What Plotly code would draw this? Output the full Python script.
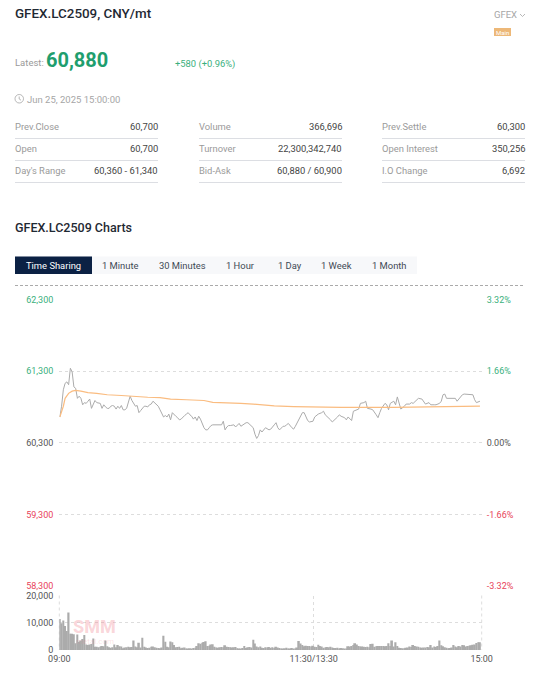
import plotly.graph_objects as go

W, H = 542, 677

price_min = [0,1,2,3,4,5,6,7,8,9,10,11,12,13,14,15,16,17,18,19,20,21,22,23,24,25,26,27,28,29,30,31,32,33,34,35,36,37,38,39,
 40,41,42,43,44,45,46,47,48,49,50,51,52,53,54,55,56,57,58,59,60,61,62,63,64,65,66,67,68,69,70,71,72,73,74,75,76,77,78,79,
 80,81,82,83,84,85,86,87,88,89,90,91,92,93,94,95,96,97,98,99,100,101,102,103,104,105,106,107,108,109,110,111,112,113,114,115,116,117,119,
 120,122,123,124,125,127,128,129,130,132,133,134,135,137,138,139,141,142,144,145,146,147,149,150,151,152,154,155,156,158,159,160,162,163,164,166,167,169,170,171,
 173,174,175,177,178,180,181,182,183,185,186,187,188,190,191,192,193,194,196,197,199,200,201,203,204,206,207,208,210,211,213,214,216,217,218,219,220,222,223,225,
 226,227,229,230,232,234,235,236,237,239]
price = [60660,60810,61040,61130,61150,61110,61340,61290,61080,61060,60920,60950,60920,60830,60860,60850,60880,60910,60780,60850,
 60890,60860,60860,60850,60780,60830,60800,60780,60780,60810,60820,60810,60770,60810,60780,60820,60760,60760,60780,60850,
 60950,60890,60850,60810,60820,60720,60750,60780,60810,60810,60800,60830,60840,60880,60860,60830,60810,60760,60720,60660,
 60680,60660,60700,60620,60720,60690,60670,60650,60620,60630,60660,60680,60700,60720,60690,60670,60630,60660,60610,60670,
 60630,60570,60510,60480,60480,60510,60540,60550,60550,60540,60550,60540,60550,60600,60480,60520,60540,60540,60540,60550,
 60520,60540,60570,60530,60550,60570,60580,60580,60560,60530,60510,60420,60360,60400,60480,60450,60480,60510,60480,
 60490,60550,60580,60510,60480,60530,60530,60550,60570,60510,60490,60530,60580,60690,60720,60720,60610,60590,60600,60660,
 60680,60700,60720,60740,60690,60670,60620,60590,60610,60660,60690,60670,60650,60620,60660,60610,60740,60760,60770,60850,
 60860,60880,60780,60770,60760,60690,60650,60720,60780,60850,60830,60760,60850,60880,60830,60940,60850,60770,60810,60840,
 60840,60860,60850,60900,60920,60910,60880,60840,60860,60830,60830,60830,60850,60880,60970,60980,60920,60920,60910,60920,
 60880,60910,60970,60980,60980,60980,60970,60900,60860,60880]

avg_min = [0,2,3,5,7,9,12,16,21,27,35,42,50,57,63,72,82,87,95,103,110,115,120,122,133,145,160,190,209,228,239]
avg_price = [60660,60810,60920,60990,61020,61030,61020,61000,60990,60970,60960,60945,60935,60930,60910,60900,60890,60865,60860,60850,
 60840,60830,60825,60815,60805,60800,60793,60793,60798,60802,60810]

volume = [
 11400,9800,10800,8800,7000,13800,6000,6000,5800,2500,5700,3000,3500,4000,5500,2000,1800,2000,2200,4200,
 1200,1200,1000,1200,1500,1400,3500,1400,1000,800,1000,2000,1000,1800,1400,1300,600,900,1000,1200,
 1000,1100,3500,1300,1000,2700,900,4500,1200,900,700,800,1200,1300,1000,800,700,600,900,5200,
 3000,1200,1000,3100,2800,1800,1000,1100,1200,600,800,900,500,500,600,500,700,800,1500,2500,
 2300,2700,2900,3200,1500,1600,2000,2100,1200,900,800,1000,1100,1000,1700,1200,1100,1000,900,1000,
 1100,600,400,500,700,1500,700,1000,1100,900,3800,2400,1300,1000,1300,800,700,1000,900,1100,
 800,1000,700,1200,900,700,500,400,600,800,500,400,700,500,400,900,3300,2400,1800,1400,1600,1500,
 1500,1300,1600,1200,1100,1900,1500,1300,800,900,1100,1000,1200,900,700,700,800,500,700,600,
 400,400,1400,1300,1500,1800,2500,2000,1500,1300,1300,1200,1100,1200,1000,2200,2300,1200,1400,1500,
 1500,1500,1500,1400,1500,2500,1500,3500,1300,2800,1500,800,700,600,600,800,900,1300,1100,1800,
 1500,1300,1200,900,800,900,900,1100,1000,1800,900,1300,1100,1500,3500,1700,1400,1000,800,600,
 700,900,1800,1300,1000,1500,1300,1800,1700,1300,1500,1600,1700,1900,2000,2600,2800,2800][:240]

price_ticks = [62300,61300,60300,59300,58300]
price_labels = ["62,300","61,300","60,300","59,300","58,300"]
pct_ticks = [3.32,1.66,0,-1.66,-3.32]
pct_labels = ["3.32%","1.66%","0.00%","-1.66%","-3.32%"]
label_colors = ["#3aaf7d","#3aaf7d","#555555","#e8435a","#e8435a"]
vol_ticks = [0,10000,20000]
vol_labels = ["0","10,000","20,000"]
time_ticks = [-0.3,144.4,240]
time_labels = ["09:00","11:30/13:30","15:00"]

stat_rows = [
 [("Prev.Close","60,700"),("Volume","366,696"),("Prev.Settle","60,300")],
 [("Open","60,700"),("Turnover","22,300,342,740"),("Open Interest","350,256")],
 [("Day's Range","60,360 - 61,340"),("Bid-Ask","60,880 / 60,900"),("I.O Change","6,692")],
]
tabs = [("Time Sharing",53),("1 Minute",120),("30 Minutes",182),("1 Hour",240),("1 Day",290),("1 Week",336),("1 Month",389)]

PX0, PX1 = 59.3, 481.7
def yd(p): return 1 - p / H
def xd(p): return p / W

fig = go.Figure()
fig.add_trace(go.Scatter(x=price_min, y=price, mode="lines", line=dict(color="#ababab", width=1), xaxis="x", yaxis="y", hoverinfo="skip"))
fig.add_trace(go.Scatter(x=avg_min, y=avg_price, mode="lines", line=dict(color="#fabc80", width=1.2), xaxis="x", yaxis="y", hoverinfo="skip"))
fig.add_trace(go.Scatter(x=[0], y=[0], mode="lines", opacity=0, xaxis="x", yaxis="y2", hoverinfo="skip"))
fig.add_trace(go.Bar(x=list(range(len(volume))), y=volume, marker=dict(color="#ababab", line=dict(width=0)), width=1.0, xaxis="x2", yaxis="y3", hoverinfo="skip"))

tick_font = dict(family="Roboto", size=9, color="#555555")
grid = dict(showgrid=True, gridcolor="#dddddd", griddash="3px,3px", gridwidth=1, zeroline=False, showline=False, ticks="", fixedrange=True, automargin=False)

ann = []
def T(x, y, s, size=10, color="#888888", anchor="left", weight=400):
    ann.append(dict(xref="paper", yref="paper", x=xd(x), y=yd(y), text=s, showarrow=False, xanchor=anchor, yanchor="middle",
                    font=dict(family="Roboto", size=size, color=color, weight=weight), borderpad=0, borderwidth=0))

T(15, 13, "GFEX.LC2509, CNY/mt", 13.4, "#1f2933", weight=500)
T(517, 15, "GFEX", 9.5, "#a6a6a6", "right")
T(502.5, 32.5, "Main", 6, "#ffffff", "center")
T(15, 63, "Latest:", 9.5, "#9a9a9a")
T(46, 60, "60,880", 20, "#1f9e6e", weight=700)
T(175, 64, "+580 (+0.96%)", 9.4, "#3aaf7d")
T(27, 99, "Jun 25, 2025 15:00:00", 9.5, "#a6a6a6")
T(15, 227, "GFEX.LC2509 Charts", 12.5, "#1f2933", weight=500)

shapes = []
cols = [(15,158),(199,342),(382,525)]
for r, row in enumerate(stat_rows):
    yc = 126.4 + 22 * r
    yl = 138.5 + 22 * r
    for c, (lab, val) in enumerate(row):
        T(cols[c][0], yc, lab, 9.4, "#9a9a9a")
        T(cols[c][1], yc, val, 9.4, "#444444", "right")
        shapes.append(dict(type="line", xref="paper", yref="paper", x0=xd(cols[c][0]), x1=xd(cols[c][1]), y0=yd(yl), y1=yd(yl), line=dict(color="#dcdee3", width=1)))

shapes.append(dict(type="rect", xref="paper", yref="paper", x0=xd(15), x1=xd(417), y0=yd(256.5), y1=yd(274), fillcolor="#f7f8fa", line=dict(width=0), layer="below"))
shapes.append(dict(type="rect", xref="paper", yref="paper", x0=xd(15), x1=xd(92), y0=yd(256.5), y1=yd(274), fillcolor="#0b2144", line=dict(width=0), layer="below"))
for i, (s, x) in enumerate(tabs):
    T(x, 265, s, 9.4, "#ffffff" if i == 0 else "#3f4a55", "center")
shapes.append(dict(type="line", xref="paper", yref="paper", x0=xd(15), x1=xd(525), y0=yd(285.5), y1=yd(285.5), line=dict(color="#aaaaaa", width=1, dash="3px,2px")))
shapes.append(dict(type="rect", xref="paper", yref="paper", x0=xd(494), x1=xd(511), y0=yd(28), y1=yd(36), fillcolor="#edb878", line=dict(width=0), layer="below"))
shapes.append(dict(type="circle", xref="paper", yref="paper", x0=xd(15), x1=xd(23.5), y0=yd(94.5), y1=yd(103), line=dict(color="#a6a6a6", width=0.8)))
shapes.append(dict(type="path", xref="paper", yref="paper", path=f"M {xd(19.2)} {yd(96.5)} L {xd(19.2)} {yd(99)} L {xd(21)} {yd(100.2)}", line=dict(color="#a6a6a6", width=0.8)))
shapes.append(dict(type="path", xref="paper", yref="paper", path=f"M {xd(520)} {yd(14)} L {xd(522.5)} {yd(16.5)} L {xd(525)} {yd(14)}", line=dict(color="#a6a6a6", width=0.8)))
for px in (PX0, PX1):
    shapes.append(dict(type="line", xref="paper", yref="paper", x0=xd(px), x1=xd(px), y0=yd(595.5), y1=yd(650), line=dict(color="#dddddd", width=1, dash="3px,3px"), layer="below"))

ann.append(dict(xref="paper", yref="paper", x=xd(94), y=yd(626), text="SMM", showarrow=False, xanchor="center", yanchor="middle",
                font=dict(family="Roboto", size=18, color="rgba(240,130,140,0.32)", weight=800)))
ann.append(dict(xref="paper", yref="paper", x=xd(95), y=yd(641), text="metal.com", showarrow=False, xanchor="center", yanchor="middle",
                font=dict(family="Roboto", size=8, color="rgba(240,130,140,0.22)")))

def colored(labels):
    return [f'<span style="color:{c}">{s}</span>' for s, c in zip(labels, label_colors)]

fig.update_layout(
    width=W, height=H, margin=dict(l=0, r=0, t=0, b=0, autoexpand=False), autosize=False,
    paper_bgcolor="#ffffff", plot_bgcolor="rgba(0,0,0,0)", showlegend=False, barmode="overlay",
    font=dict(family="Roboto"), annotations=ann, shapes=shapes,
    xaxis=dict(domain=[xd(PX0), xd(PX1)], range=[-0.3, 240], anchor="y", showgrid=False, zeroline=False, showline=False, showticklabels=False, ticks="", fixedrange=True, automargin=False),
    yaxis=dict(domain=[yd(586), yd(299.5)], range=[58300, 62300], anchor="x", tickmode="array", tickvals=price_ticks, ticktext=colored(price_labels), tickfont=tick_font, ticklabelstandoff=5, **grid),
    yaxis2=dict(domain=[yd(586), yd(299.5)], range=[-3.32, 3.32], overlaying="y", anchor="x", side="right", tickmode="array", tickvals=pct_ticks, ticktext=colored(pct_labels), tickfont=tick_font, showgrid=False, zeroline=False, showline=False, ticks="", ticklabelstandoff=4, fixedrange=True, automargin=False),
    xaxis2=dict(domain=[xd(PX0), xd(PX1)], range=[-0.3, 240], anchor="y3", tickmode="array", tickvals=time_ticks, ticktext=time_labels, tickfont=tick_font, showgrid=True, gridcolor="#dddddd", griddash="3px,3px", zeroline=False, showline=False, ticks="", ticklabelstandoff=2, fixedrange=True, automargin=False),
    yaxis3=dict(domain=[yd(650), yd(595.5)], range=[0, 20000], anchor="x2", tickmode="array", tickvals=vol_ticks, ticktext=vol_labels, tickfont=tick_font, ticklabelstandoff=5, **grid),
)

fig.write_html("out.html", config={"displayModeBar": False},
               post_script="document.body.style.margin='0';document.body.style.overflow='hidden';")
